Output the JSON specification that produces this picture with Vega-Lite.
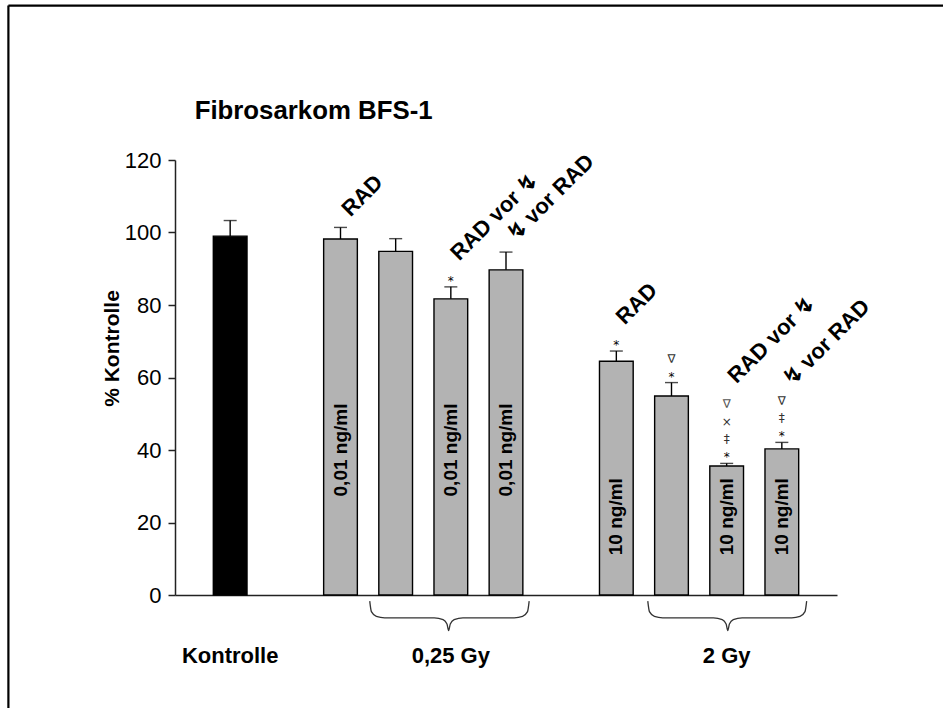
{
  "$schema": "https://vega.github.io/schema/vega-lite/v6.json",
  "width": 662,
  "height": 435,
  "autosize": {"type": "none"},
  "padding": {"left": 175, "top": 160, "right": 106, "bottom": 113},
  "background": "white",
  "config": {
    "view": {"stroke": null},
    "font": "Liberation Sans",
    "text": {"font": "Liberation Sans"}
  },
  "datasets": {
    "bars": [
      {"cat": "K", "kind": "Kontrolle", "mean": 99.0, "hi": 103.3, "s1": "", "s2": "", "s3": "", "s4": "", "label": "", "conc": ""},
      {"cat": "a1", "kind": "Behandlung", "mean": 98.2, "hi": 101.4, "s1": "", "s2": "", "s3": "", "s4": "", "label": "RAD", "conc": "0,01 ng/ml"},
      {"cat": "a2", "kind": "Behandlung", "mean": 94.8, "hi": 98.3, "s1": "", "s2": "", "s3": "", "s4": "", "label": "", "conc": ""},
      {"cat": "a3", "kind": "Behandlung", "mean": 81.7, "hi": 85.0, "s1": "*", "s2": "", "s3": "", "s4": "", "label": "RAD vor ↯", "conc": "0,01 ng/ml"},
      {"cat": "a4", "kind": "Behandlung", "mean": 89.7, "hi": 94.6, "s1": "", "s2": "", "s3": "", "s4": "", "label": "↯ vor RAD", "conc": "0,01 ng/ml"},
      {"cat": "b1", "kind": "Behandlung", "mean": 64.5, "hi": 67.3, "s1": "*", "s2": "", "s3": "", "s4": "", "label": "RAD", "conc": "10 ng/ml"},
      {"cat": "b2", "kind": "Behandlung", "mean": 54.9, "hi": 58.6, "s1": "*", "s2": "∇", "s3": "", "s4": "", "label": "", "conc": ""},
      {"cat": "b3", "kind": "Behandlung", "mean": 35.6, "hi": 36.3, "s1": "*", "s2": "‡", "s3": "×", "s4": "∇", "label": "RAD vor ↯", "conc": "10 ng/ml"},
      {"cat": "b4", "kind": "Behandlung", "mean": 40.3, "hi": 42.1, "s1": "*", "s2": "‡", "s3": "∇", "s4": "", "label": "↯ vor RAD", "conc": "10 ng/ml"}
    ],
    "groups": [
      {"cat": "K", "name": "Kontrolle"},
      {"cat": "a3", "name": "0,25 Gy"},
      {"cat": "b3", "name": "2 Gy"}
    ],
    "braces": [
      {"brace": "0,25 Gy", "x": 3.53, "y": -1.7},
      {"brace": "0,25 Gy", "x": 3.56, "y": -4.6},
      {"brace": "0,25 Gy", "x": 3.65, "y": -5.9},
      {"brace": "0,25 Gy", "x": 3.8, "y": -6.3},
      {"brace": "0,25 Gy", "x": 4.7, "y": -6.3},
      {"brace": "0,25 Gy", "x": 4.86, "y": -6.8},
      {"brace": "0,25 Gy", "x": 4.93, "y": -8.0},
      {"brace": "0,25 Gy", "x": 4.96, "y": -9.8},
      {"brace": "0,25 Gy", "x": 4.99, "y": -8.0},
      {"brace": "0,25 Gy", "x": 5.06, "y": -6.8},
      {"brace": "0,25 Gy", "x": 5.22, "y": -6.3},
      {"brace": "0,25 Gy", "x": 6.15, "y": -6.3},
      {"brace": "0,25 Gy", "x": 6.3, "y": -5.9},
      {"brace": "0,25 Gy", "x": 6.39, "y": -4.6},
      {"brace": "0,25 Gy", "x": 6.42, "y": -1.7},
      {"brace": "2 Gy", "x": 8.57, "y": -1.7},
      {"brace": "2 Gy", "x": 8.6, "y": -4.6},
      {"brace": "2 Gy", "x": 8.69, "y": -5.9},
      {"brace": "2 Gy", "x": 8.84, "y": -6.3},
      {"brace": "2 Gy", "x": 9.76, "y": -6.3},
      {"brace": "2 Gy", "x": 9.92, "y": -6.8},
      {"brace": "2 Gy", "x": 9.99, "y": -8.0},
      {"brace": "2 Gy", "x": 10.02, "y": -9.8},
      {"brace": "2 Gy", "x": 10.05, "y": -8.0},
      {"brace": "2 Gy", "x": 10.12, "y": -6.8},
      {"brace": "2 Gy", "x": 10.28, "y": -6.3},
      {"brace": "2 Gy", "x": 11.18, "y": -6.3},
      {"brace": "2 Gy", "x": 11.33, "y": -5.9},
      {"brace": "2 Gy", "x": 11.42, "y": -4.6},
      {"brace": "2 Gy", "x": 11.45, "y": -1.7}
    ]
  },
  "layer": [
    {
      "encoding": {
        "x": {
          "field": "cat",
          "type": "nominal",
          "scale": {
            "domain": ["K", "g1", "a1", "a2", "a3", "a4", "g2", "b1", "b2", "b3", "b4"],
            "paddingInner": 0.389,
            "paddingOuter": 0.6945
          },
          "axis": {
            "labels": false,
            "ticks": false,
            "title": null,
            "domainColor": "#222222",
            "domainWidth": 1.5,
            "grid": false
          }
        }
      },
      "layer": [
        {
          "data": {"name": "bars"},
          "mark": {"type": "bar", "stroke": "black", "strokeWidth": 1.4},
          "encoding": {
            "y": {
              "field": "mean",
              "type": "quantitative",
              "scale": {"domain": [0, 120], "nice": false},
              "axis": {
                "title": "% Kontrolle",
                "values": [0, 20, 40, 60, 80, 100, 120],
                "grid": false,
                "domainColor": "#222222",
                "domainWidth": 1.5,
                "tickColor": "#222222",
                "tickWidth": 1.5,
                "tickSize": 7,
                "labelPadding": 7,
                "labelFontSize": 22,
                "labelColor": "black",
                "labelFont": "Liberation Sans",
                "titleFont": "Liberation Sans",
                "titleFontSize": 21,
                "titleFontWeight": "bold",
                "titleColor": "black",
                "titleAngle": -90,
                "titleAlign": "center",
                "titleBaseline": "alphabetic",
                "titleX": -57,
                "titleY": 188
              }
            },
            "color": {
              "field": "kind",
              "type": "nominal",
              "scale": {"domain": ["Kontrolle", "Behandlung"], "range": ["black", "#b3b3b3"]},
              "legend": null
            }
          }
        },
        {
          "data": {"name": "bars"},
          "mark": {"type": "rule", "color": "black", "strokeWidth": 1.4},
          "encoding": {
            "y": {"field": "mean", "type": "quantitative"},
            "y2": {"field": "hi"}
          }
        },
        {
          "data": {"name": "bars"},
          "mark": {"type": "tick", "color": "black", "thickness": 1.4, "size": 13},
          "encoding": {
            "y": {"field": "hi", "type": "quantitative"}
          }
        },
        {
          "data": {"name": "bars"},
          "transform": [{"filter": "datum.s1 != ''"}],
          "mark": {"type": "text", "fontSize": 12, "baseline": "alphabetic", "align": "center", "dy": -2, "color": "black", "font": "DejaVu Sans"},
          "encoding": {
            "y": {"field": "hi", "type": "quantitative"},
            "text": {"field": "s1"}
          }
        },
        {
          "data": {"name": "bars"},
          "transform": [{"filter": "datum.s2 != ''"}],
          "mark": {"type": "text", "fontSize": 12, "baseline": "alphabetic", "align": "center", "dy": -20, "color": "#333333", "font": "DejaVu Sans"},
          "encoding": {
            "y": {"field": "hi", "type": "quantitative"},
            "text": {"field": "s2"}
          }
        },
        {
          "data": {"name": "bars"},
          "transform": [{"filter": "datum.s3 != ''"}],
          "mark": {"type": "text", "fontSize": 12, "baseline": "alphabetic", "align": "center", "dy": -37, "color": "#333333", "font": "DejaVu Sans"},
          "encoding": {
            "y": {"field": "hi", "type": "quantitative"},
            "text": {"field": "s3"}
          }
        },
        {
          "data": {"name": "bars"},
          "transform": [{"filter": "datum.s4 != ''"}],
          "mark": {"type": "text", "fontSize": 12, "baseline": "alphabetic", "align": "center", "dy": -55, "color": "#555555", "font": "DejaVu Sans"},
          "encoding": {
            "y": {"field": "hi", "type": "quantitative"},
            "text": {"field": "s4"}
          }
        },
        {
          "data": {"name": "bars"},
          "transform": [{"filter": "datum.conc == '0,01 ng/ml'"}],
          "mark": {"type": "text", "angle": 270, "fontSize": 19, "fontWeight": "bold", "align": "center", "baseline": "middle", "color": "black"},
          "encoding": {
            "y": {"datum": 40, "type": "quantitative"},
            "text": {"field": "conc"}
          }
        },
        {
          "data": {"name": "bars"},
          "transform": [{"filter": "datum.conc == '10 ng/ml'"}],
          "mark": {"type": "text", "angle": 270, "fontSize": 19, "fontWeight": "bold", "align": "center", "baseline": "middle", "color": "black"},
          "encoding": {
            "y": {"datum": 21.6, "type": "quantitative"},
            "text": {"field": "conc"}
          }
        },
        {
          "data": {"name": "bars"},
          "transform": [{"filter": "datum.label != '' && datum.s1 == ''"}],
          "mark": {"type": "text", "angle": 315, "fontSize": 22, "fontWeight": "bold", "align": "left", "baseline": "alphabetic", "dx": 14, "dy": 0, "color": "black"},
          "encoding": {
            "y": {"field": "hi", "type": "quantitative"},
            "text": {"field": "label"}
          }
        },
        {
          "data": {"name": "bars"},
          "transform": [{"filter": "datum.label != '' && datum.s1 != '' && datum.s2 == ''"}],
          "mark": {"type": "text", "angle": 315, "fontSize": 22, "fontWeight": "bold", "align": "left", "baseline": "alphabetic", "dx": 24, "dy": -12, "color": "black"},
          "encoding": {
            "y": {"field": "hi", "type": "quantitative"},
            "text": {"field": "label"}
          }
        },
        {
          "data": {"name": "bars"},
          "transform": [{"filter": "datum.label != '' && datum.s3 != '' && datum.s4 == ''"}],
          "mark": {"type": "text", "angle": 315, "fontSize": 22, "fontWeight": "bold", "align": "left", "baseline": "alphabetic", "dx": 46, "dy": -32, "color": "black"},
          "encoding": {
            "y": {"field": "hi", "type": "quantitative"},
            "text": {"field": "label"}
          }
        },
        {
          "data": {"name": "bars"},
          "transform": [{"filter": "datum.label != '' && datum.s4 != ''"}],
          "mark": {"type": "text", "angle": 315, "fontSize": 22, "fontWeight": "bold", "align": "left", "baseline": "alphabetic", "dx": 63, "dy": -49, "color": "black"},
          "encoding": {
            "y": {"field": "hi", "type": "quantitative"},
            "text": {"field": "label"}
          }
        },
        {
          "data": {"name": "groups"},
          "mark": {"type": "text", "fontSize": 22, "fontWeight": "bold", "align": "center", "baseline": "middle", "color": "black"},
          "encoding": {
            "y": {"datum": -16.7, "type": "quantitative"},
            "text": {"field": "name"}
          }
        }
      ]
    },
    {
      "data": {"name": "braces"},
      "mark": {"type": "line", "color": "#333333", "strokeWidth": 1.3, "interpolate": "monotone"},
      "encoding": {
        "x": {"field": "x", "type": "quantitative", "scale": {"domain": [0, 12], "nice": false, "zero": false}, "axis": null},
        "y": {"field": "y", "type": "quantitative"},
        "detail": {"field": "brace"}
      }
    },
    {
      "data": {"values": [{"title": "Fibrosarkom BFS-1"}]},
      "mark": {"type": "text", "fontSize": 25.8, "fontWeight": "bold", "align": "left", "baseline": "alphabetic", "color": "black"},
      "encoding": {
        "x": {"datum": 0.356, "type": "quantitative", "scale": {"domain": [0, 12], "nice": false, "zero": false}, "axis": null},
        "y": {"datum": 131.4, "type": "quantitative"},
        "text": {"field": "title"}
      }
    },
    {
      "data": {"values": [{}]},
      "mark": {"type": "rule", "color": "black", "strokeWidth": 2.2},
      "encoding": {
        "x": {"datum": -3.02, "type": "quantitative", "scale": {"domain": [0, 12], "nice": false, "zero": false}, "axis": null},
        "x2": {"datum": 14},
        "y": {"datum": 162.6, "type": "quantitative"}
      }
    },
    {
      "data": {"values": [{}]},
      "mark": {"type": "rule", "color": "black", "strokeWidth": 2.2},
      "encoding": {
        "x": {"datum": -3.02, "type": "quantitative", "scale": {"domain": [0, 12], "nice": false, "zero": false}, "axis": null},
        "y": {"datum": 162.6, "type": "quantitative"},
        "y2": {"datum": -32}
      }
    }
  ],
  "resolve": {"scale": {"x": "independent"}}
}
